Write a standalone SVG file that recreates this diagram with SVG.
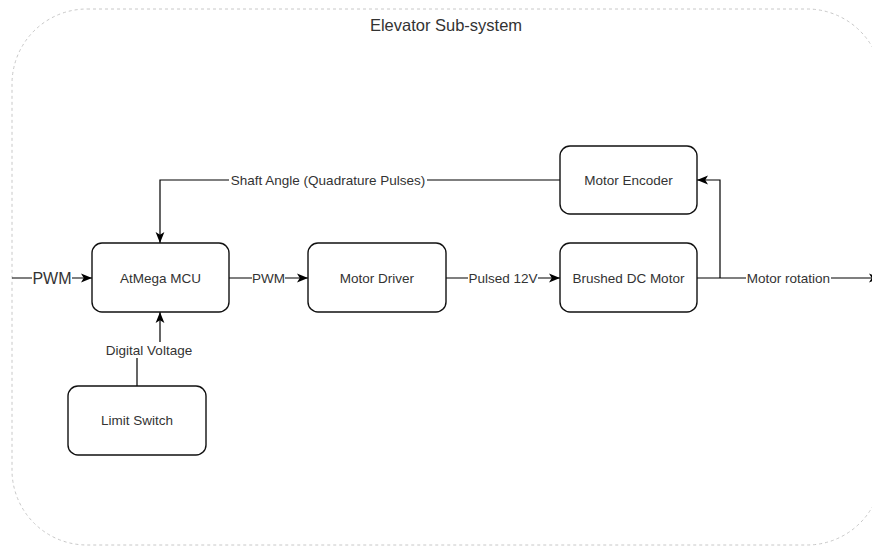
<svg xmlns="http://www.w3.org/2000/svg" width="872" height="546" viewBox="0 0 872 546">
<style>
.node rect{fill:#fff;stroke:#111;stroke-width:1.4}
.node text{font-family:"Liberation Sans",Arial,sans-serif;font-size:13.5px;fill:#333;text-anchor:middle;dominant-baseline:central}
.edge{fill:none;stroke:#000;stroke-width:1.2}
.lbl{font-family:"Liberation Sans",Arial,sans-serif;font-size:13.5px;fill:#333;text-anchor:middle;dominant-baseline:central}
.bg{fill:#fff;stroke:none}
</style>
<defs>
<marker id="arr" viewBox="0 0 10 10" refX="10" refY="5" markerWidth="11" markerHeight="11" markerUnits="userSpaceOnUse" orient="auto">
<path d="M0,1 L10,5 L0,9 L2.5,5 Z" fill="#000"/>
</marker>
</defs>
<rect width="872" height="546" fill="#fff"/>
<g id="container">
<rect x="12" y="9" width="870" height="536" rx="75" ry="75" fill="none" stroke="#c8c8c8" stroke-width="1" stroke-dasharray="3 3"/>
<text x="446" y="25" style="font-family:'Liberation Sans',Arial,sans-serif;font-size:16.5px;fill:#333;text-anchor:middle;dominant-baseline:central">Elevator Sub-system</text>
</g>
<g id="connectors">
<path class="edge" d="M12,278 H92" marker-end="url(#arr)"/>
<path class="edge" d="M229,278 H308" marker-end="url(#arr)"/>
<path class="edge" d="M446,278 H560" marker-end="url(#arr)"/>
<path class="edge" d="M697,278 H880" marker-end="url(#arr)"/>
<path class="edge" d="M720,278 V180 H697" marker-end="url(#arr)"/>
<path class="edge" d="M560,180 H160 V243" marker-end="url(#arr)"/>
<path class="edge" d="M137,386 V350 H160 V312" marker-end="url(#arr)"/>
<rect class="bg" x="32" y="268" width="40" height="20"/>
<text class="lbl" x="52" y="278" style="font-size:16px">PWM</text>
<rect class="bg" x="252" y="270" width="33" height="16"/>
<text class="lbl" x="268.5" y="278">PWM</text>
<rect class="bg" x="468" y="270" width="70" height="16"/>
<text class="lbl" x="503" y="278">Pulsed 12V</text>
<rect class="bg" x="746" y="270" width="85" height="16"/>
<text class="lbl" x="788.5" y="278">Motor rotation</text>
<rect class="bg" x="229" y="172" width="198" height="16"/>
<text class="lbl" x="328" y="180">Shaft Angle (Quadrature Pulses)</text>
<rect class="bg" x="106" y="342" width="86" height="16"/>
<text class="lbl" x="149" y="350">Digital Voltage</text>
</g>
<g id="mcu" class="node">
<rect x="92" y="243" width="137" height="69" rx="10"/>
<text x="160.5" y="278">AtMega MCU</text>
</g>
<g id="driver" class="node">
<rect x="308" y="243" width="138" height="69" rx="10"/>
<text x="377" y="278">Motor Driver</text>
</g>
<g id="motor" class="node">
<rect x="560" y="243" width="137" height="69" rx="10"/>
<text x="628.5" y="278">Brushed DC Motor</text>
</g>
<g id="encoder" class="node">
<rect x="560" y="146" width="137" height="68" rx="10"/>
<text x="628.5" y="180">Motor Encoder</text>
</g>
<g id="limit" class="node">
<rect x="68" y="386" width="138" height="69" rx="10"/>
<text x="137" y="420.5">Limit Switch</text>
</g>
</svg>
